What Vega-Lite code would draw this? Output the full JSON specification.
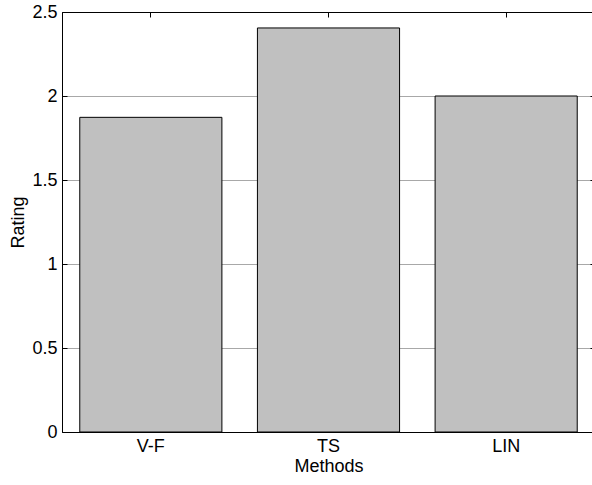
{
  "$schema": "https://vega.github.io/schema/vega-lite/v6.json",
  "autosize": "none",
  "padding": {"left": 62, "top": 12, "right": 0, "bottom": 53},
  "width": 533,
  "height": 420,
  "background": "white",
  "config": {
    "view": {"stroke": "black", "strokeWidth": 1},
    "font": "Liberation Sans"
  },
  "data": {"values": [
    {"method": "V-F", "rating": 1.873},
    {"method": "TS", "rating": 2.405},
    {"method": "LIN", "rating": 2.0}
  ]},
  "layer": [
    {
      "mark": {"type": "bar", "fill": "#c0c0c0", "stroke": "black", "strokeWidth": 1},
      "encoding": {
        "x": {"field": "method", "type": "nominal", "sort": null,
              "scale": {"paddingInner": 0.2, "paddingOuter": 0.1},
              "axis": {"orient": "bottom", "title": "Methods", "labelAngle": 0, "tickSize": -5, "labelPadding": 10, "titlePadding": 2, "domainWidth": 1, "domainColor": "black", "tickColor": "black", "labelColor": "black", "titleColor": "black", "labelFont": "Liberation Sans", "titleFont": "Liberation Sans", "labelFontSize": 18, "titleFontSize": 18, "titleFontWeight": "normal"}},
        "y": {"field": "rating", "type": "quantitative",
              "scale": {"domain": [0, 2.5], "nice": false},
              "axis": {"orient": "left", "title": "Rating", "values": [0, 0.5, 1, 1.5, 2, 2.5], "format": "~g", "tickSize": -5, "labelPadding": 10, "titlePadding": 4, "grid": true, "gridColor": "#a8a8a8", "gridWidth": 1, "gridOpacity": 1, "domainColor": "black", "tickColor": "black", "labelColor": "black", "titleColor": "black", "labelFont": "Liberation Sans", "titleFont": "Liberation Sans", "labelFontSize": 18, "titleFontSize": 18, "titleFontWeight": "normal"}}
      }
    },
    {
      "mark": {"type": "bar", "opacity": 0},
      "encoding": {
        "x": {"field": "method", "type": "nominal", "sort": null,
              "scale": {"paddingInner": 0.2, "paddingOuter": 0.1},
              "axis": {"orient": "top", "title": null, "labels": false, "tickSize": -5, "domain": true, "domainColor": "black", "tickColor": "black"}},
        "y": {"field": "rating", "type": "quantitative",
              "scale": {"domain": [0, 2.5], "nice": false},
              "axis": {"orient": "right", "title": null, "labels": false, "values": [0, 0.5, 1, 1.5, 2, 2.5], "tickSize": -5, "grid": false, "domainColor": "black", "tickColor": "black"}}
      }
    }
  ],
  "resolve": {"axis": {"x": "independent", "y": "independent"}}
}
